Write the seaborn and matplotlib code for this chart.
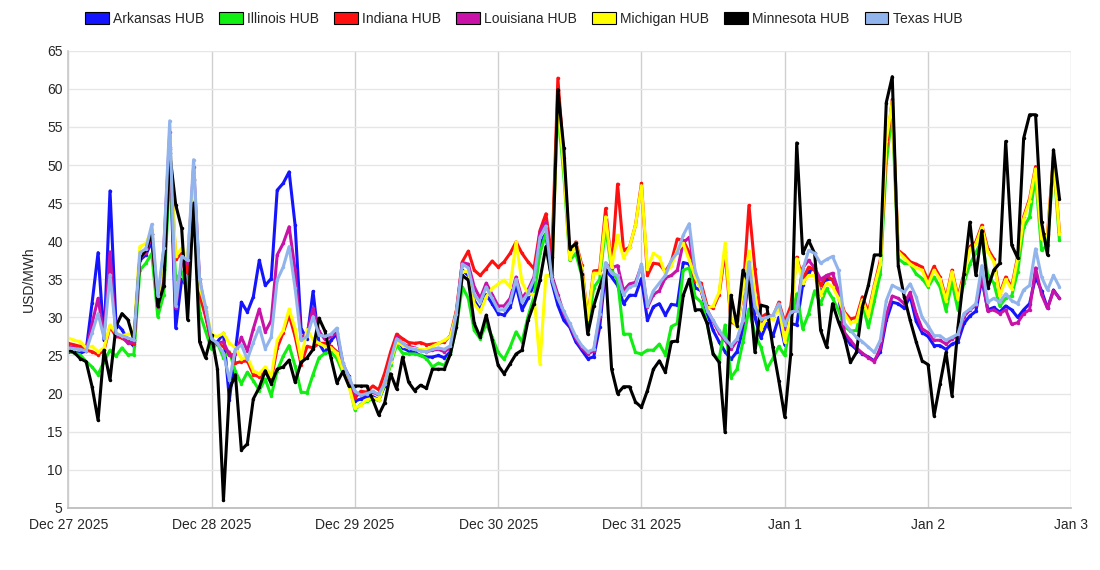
import pandas as pd
import matplotlib
matplotlib.use('Agg')
import matplotlib.pyplot as plt
from matplotlib.patches import Patch
import seaborn as sns

# hourly hub prices, Dec 27 2025 00:00 onward
hubs = ['Arkansas HUB', 'Illinois HUB', 'Indiana HUB', 'Louisiana HUB',
        'Michigan HUB', 'Minnesota HUB', 'Texas HUB']
colors = ['#1414ff', '#11ee11', '#ff1010', '#c812a8', '#ffff00', '#000000', '#92b4ec']

arkansas = [
    25.5, 25.4, 25.3, 25.6, 31.9, 38.5, 27.0, 46.6, 29.2, 28.4, 27.0, 26.2,
    37.5, 38.2, 40.0, 31.0, 36.2, 52.1, 28.6, 35.0, 34.0, 48.0, 34.5, 30.5,
    26.6, 26.8, 27.9, 19.2, 25.6, 32.0, 30.7, 32.7, 37.5, 34.2, 35.1, 46.7,
    47.6, 49.1, 42.1, 28.5, 27.2, 33.4, 26.6, 25.3, 27.0, 27.8, 23.8, 22.3,
    19.0, 19.3, 19.6, 19.6, 19.2, 21.0, 24.2, 27.2, 26.0, 25.6, 25.4, 25.0,
    24.8, 24.8, 25.0, 24.7, 25.5, 29.6, 36.2, 35.5, 32.2, 31.0, 33.0, 31.8,
    30.5, 30.3, 31.3, 34.2, 31.0, 32.5, 34.3, 39.8, 41.0, 34.6, 31.6, 29.6,
    28.7, 26.8, 25.7, 24.6, 24.8, 28.7, 36.2, 35.3, 34.2, 31.8, 32.9, 32.9,
    35.1, 29.6, 31.4, 31.8, 30.3, 31.7, 31.6, 37.2, 37.0, 33.9, 33.5, 30.5,
    28.3, 26.8, 25.5, 24.5, 25.5, 28.4, 36.0, 30.0, 27.3, 29.2, 27.5, 30.0,
    26.4, 29.2, 29.0, 34.3, 36.0, 36.5, 33.0, 35.0, 35.0, 33.0, 27.5, 26.5,
    25.8, 25.2, 24.8, 24.3, 25.5, 29.6, 32.0, 31.8, 31.2, 32.8, 29.5, 28.0,
    27.5, 26.3, 26.3, 25.8, 26.5, 26.8, 29.2, 30.2, 30.8, 35.0, 31.0, 31.3,
    30.7, 31.5, 31.0, 30.0, 31.0, 31.8, 35.3, 33.5, 31.2, 33.6, 32.5]

illinois = [
    25.7, 25.3, 25.1, 24.2, 23.5, 22.5, 24.2, 25.7, 24.9, 26.0, 25.1, 25.1,
    36.2, 37.1, 38.4, 30.1, 33.0, 49.2, 35.0, 36.0, 33.4, 45.0, 30.6, 28.2,
    25.8, 26.6, 24.7, 25.5, 22.9, 21.3, 22.8, 21.7, 20.4, 21.9, 19.7, 23.0,
    24.9, 26.3, 23.6, 20.2, 20.1, 22.5, 24.7, 25.3, 25.4, 24.6, 22.7, 21.4,
    17.9, 18.6, 19.0, 19.3, 19.1, 21.2, 23.8, 26.4, 25.3, 25.2, 25.2, 25.0,
    24.6, 23.5, 24.0, 23.7, 25.2, 28.7, 34.0, 32.5, 28.3, 27.2, 29.2, 27.4,
    25.4, 24.5, 26.1, 28.1, 26.8, 30.1, 32.7, 38.4, 41.0, 37.9, 57.2, 48.6,
    37.5, 38.4, 35.5, 28.3, 33.9, 35.0, 41.9, 36.2, 34.9, 27.8, 27.8, 25.4,
    25.2, 25.7, 25.7, 26.5, 25.1, 28.8, 29.2, 36.2, 36.5, 32.7, 32.0, 29.2,
    25.2, 24.5, 29.0, 22.1, 23.2, 26.8, 31.1, 27.8, 26.1, 23.2, 24.6, 26.2,
    25.0, 29.6, 33.1, 28.5, 30.5, 33.5, 31.8, 33.8, 32.5, 30.9, 28.8, 28.2,
    28.3, 31.8, 28.7, 32.2, 35.7, 50.2, 57.0, 37.7, 37.1, 37.0, 35.7, 35.1,
    34.0, 35.3, 34.0, 30.9, 34.6, 31.0, 34.5, 37.0, 38.5, 40.1, 35.5, 34.5,
    31.5, 32.5, 32.8, 36.0, 41.8, 43.2, 48.6, 38.8, 39.5, 50.5, 40.1]

indiana = [
    26.6, 26.4, 26.2, 25.7, 25.5, 25.1, 25.7, 28.8, 27.5, 27.3, 26.8, 26.5,
    38.0, 39.0, 40.4, 32.0, 36.3, 52.4, 37.6, 38.4, 35.8, 48.1, 33.0, 30.1,
    26.8, 26.5, 26.2, 25.3, 24.0, 24.2, 24.3, 22.5, 22.2, 23.0, 21.8, 26.0,
    28.0, 30.3, 27.5, 23.8, 26.2, 26.0, 26.6, 26.6, 26.2, 25.5, 23.1, 21.4,
    19.4, 20.3, 20.2, 21.0, 20.5, 22.7, 25.5, 27.8, 27.2, 26.7, 26.6, 26.7,
    26.4, 26.5, 26.6, 26.8, 27.6, 30.9, 37.3, 38.7, 36.2, 35.5, 36.4, 37.4,
    36.6, 37.3, 38.4, 39.9, 38.4, 37.3, 36.4, 41.4, 43.6, 37.9, 61.4, 50.9,
    37.9, 39.9, 36.9, 29.8, 36.1, 36.2, 44.3, 36.6, 47.5, 38.8, 39.2, 42.1,
    47.6, 35.5, 37.1, 37.0, 36.0, 37.3, 40.3, 40.1, 38.5, 34.8, 34.5, 31.5,
    31.2, 33.0, 38.6, 29.4, 29.0, 33.1, 44.7, 36.4, 30.0, 30.5, 30.0, 32.0,
    29.4, 31.5, 37.9, 35.0, 36.6, 36.2, 34.2, 35.5, 34.9, 33.1, 30.7, 29.8,
    30.0, 32.7, 30.7, 34.2, 37.5, 51.8, 58.6, 38.8, 38.2, 37.3, 37.0, 36.6,
    34.9, 36.7, 35.3, 32.5, 36.2, 32.7, 35.7, 39.3, 39.9, 42.1, 39.0, 37.7,
    33.1, 35.3, 34.0, 38.0, 43.2, 45.6, 49.8, 40.6, 41.0, 51.0, 41.2]

louisiana = [
    26.2, 26.0, 25.8, 25.6, 29.2, 32.5, 27.5, 38.6, 27.5, 27.5, 26.6, 26.8,
    37.8, 38.5, 41.0, 31.4, 38.9, 54.3, 31.2, 37.3, 37.1, 49.8, 35.0, 30.8,
    26.8, 26.6, 26.8, 25.0, 25.2, 27.4, 25.6, 28.5, 31.1, 28.1, 29.6, 38.2,
    39.7, 41.9, 36.2, 27.2, 28.0, 31.2, 28.2, 27.1, 27.5, 28.0, 24.0, 22.0,
    20.1, 19.8, 19.9, 20.2, 19.8, 21.4, 24.5, 27.4, 26.5, 26.2, 26.0, 25.7,
    25.5, 25.7, 25.8, 25.5, 26.0, 30.5, 37.2, 37.0, 34.0, 32.5, 34.5, 33.0,
    31.5, 31.5, 32.5, 35.3, 32.5, 33.6, 35.3, 41.2, 42.5, 35.5, 33.0, 30.5,
    29.0, 27.2, 26.0, 25.2, 25.6, 30.0, 37.0, 36.5, 36.8, 33.5, 34.4, 34.6,
    36.8, 31.3, 33.0, 33.5, 35.2, 35.5, 36.2, 39.8, 40.5, 35.8, 33.5, 31.0,
    29.5, 28.0, 27.0, 25.8, 27.0, 29.5, 36.5, 31.5, 29.5, 29.8, 30.0, 31.5,
    28.5, 30.5, 31.0, 36.5, 37.5, 36.5, 35.0, 35.5, 35.8, 33.5, 28.0, 27.0,
    26.0, 25.3, 24.7, 24.2, 26.0, 30.3, 32.8, 32.5, 31.8, 33.3, 30.5, 28.5,
    28.0, 27.0, 27.0, 26.5, 27.2, 27.6, 30.1, 31.0, 31.6, 35.5, 30.8, 31.0,
    30.5, 31.0, 29.1, 29.3, 30.5, 31.0, 36.5, 33.0, 31.2, 33.5, 32.5]

michigan = [
    27.3, 27.0, 26.8, 26.0, 26.2, 25.5, 26.0, 29.0, 27.9, 27.6, 27.8, 27.9,
    39.3, 39.7, 41.5, 32.5, 37.1, 53.3, 38.0, 39.1, 37.8, 48.7, 34.0, 31.4,
    27.7, 27.5, 27.9, 26.6, 26.0, 24.6, 24.8, 23.0, 22.6, 23.5, 22.3, 27.0,
    28.3, 31.1, 28.5, 24.5, 28.4, 27.1, 26.6, 26.2, 26.0, 25.3, 23.1, 21.0,
    18.1, 18.5, 19.2, 19.4, 19.2, 21.4, 24.2, 26.8, 26.3, 26.0, 25.9, 25.8,
    25.8, 26.2, 26.6, 27.0, 27.5, 30.5, 36.0, 36.0, 31.8, 30.7, 32.7, 33.8,
    34.4, 34.9, 34.0, 39.9, 34.6, 33.1, 33.0, 23.9, 35.5, 35.5, 58.5, 49.8,
    37.7, 39.7, 36.5, 29.8, 35.8, 35.8, 43.2, 36.6, 40.8, 37.8, 39.2, 42.1,
    47.3, 36.4, 38.4, 37.9, 35.7, 36.8, 38.8, 39.7, 37.5, 35.3, 33.6, 31.2,
    31.5, 33.3, 39.7, 29.8, 28.8, 33.5, 38.7, 33.0, 28.5, 30.0, 29.8, 31.5,
    26.8, 30.0, 37.7, 34.5, 35.5, 35.5, 33.0, 34.5, 34.0, 32.5, 30.5, 29.3,
    29.5, 32.3, 30.2, 34.0, 37.0, 53.2, 58.3, 38.6, 37.8, 37.0, 36.5, 36.2,
    34.3, 36.2, 35.0, 32.2, 36.0, 32.4, 35.3, 39.0, 39.6, 41.8, 38.6, 37.3,
    32.8, 35.0, 33.7, 37.7, 42.9, 45.3, 49.5, 40.3, 40.7, 50.8, 41.0]

minnesota = [
    25.7, 25.4, 24.6, 24.2, 20.9, 16.5, 25.7, 21.8, 28.8, 30.5, 29.7, 27.0,
    37.8, 38.8, 41.0, 31.5, 34.1, 51.6, 44.8, 41.7, 29.7, 45.0, 26.8, 24.7,
    27.7, 23.2, 6.0, 20.5, 22.5, 12.6, 13.4, 19.3, 20.8, 23.0, 21.3, 23.2,
    23.5, 24.4, 21.5, 24.1, 24.7, 25.8, 29.9, 28.2, 24.7, 21.4, 22.9, 21.0,
    21.0, 21.0, 21.0, 19.2, 17.2, 18.8, 22.6, 20.6, 24.8, 21.5, 20.4, 21.1,
    20.7, 23.2, 23.2, 23.2, 25.2, 28.7, 35.5, 34.9, 29.2, 27.4, 30.3, 27.0,
    23.7, 22.6, 23.9, 25.2, 25.7, 29.6, 31.8, 34.9, 39.3, 34.9, 59.9, 52.2,
    39.0, 39.7, 35.7, 27.8, 31.5, 34.0, 36.2, 23.2, 20.0, 20.9, 20.9, 18.9,
    18.2, 20.4, 23.2, 24.3, 22.8, 26.8, 26.9, 32.9, 35.0, 31.0, 31.0, 29.2,
    25.2, 24.1, 14.9, 32.9, 28.9, 36.2, 34.4, 25.4, 31.6, 31.4, 26.1, 21.7,
    16.9, 25.2, 52.9, 38.4, 40.1, 38.4, 28.3, 26.1, 31.8, 29.4, 27.4, 24.1,
    25.4, 31.4, 34.2, 38.2, 38.2, 58.2, 61.6, 36.8, 32.7, 29.6, 26.8, 24.3,
    23.8, 17.1, 21.3, 25.4, 19.7, 28.7, 35.7, 42.5, 35.5, 41.4, 33.8, 36.2,
    37.1, 53.1, 39.5, 37.8, 53.5, 56.6, 56.6, 42.5, 38.2, 52.0, 45.6]

texas = [
    26.0, 25.9, 25.8, 25.6, 28.0, 30.5, 27.3, 35.6, 27.9, 27.6, 27.3, 27.0,
    38.5, 39.0, 42.2, 32.8, 39.1, 55.8, 31.5, 38.0, 37.5, 50.7, 35.0, 31.4,
    27.2, 26.6, 25.3, 21.8, 25.8, 26.4, 24.5, 26.7, 28.7, 25.9, 27.4, 34.9,
    36.6, 39.3, 33.8, 27.0, 27.5, 30.1, 27.7, 27.5, 27.8, 28.6, 24.0, 22.2,
    20.3, 19.8, 20.0, 20.3, 19.9, 21.3, 24.5, 27.2, 26.6, 26.0, 25.8, 25.6,
    25.5, 25.8, 26.0, 25.8, 26.3, 30.5, 37.0, 36.5, 33.0, 32.0, 34.0, 32.5,
    31.0, 31.0, 32.0, 35.0, 32.0, 33.2, 35.0, 40.5, 42.0, 35.0, 32.5, 30.8,
    29.2, 27.5, 26.3, 25.5, 25.8, 30.5, 37.2, 35.8, 35.5, 33.0, 34.0, 34.2,
    37.0, 31.5, 33.5, 34.5, 35.5, 37.5, 38.5, 40.8, 42.3, 36.0, 34.0, 30.9,
    29.6, 28.3, 27.2, 26.3, 27.2, 29.6, 37.3, 31.4, 29.8, 30.0, 30.3, 31.8,
    29.0, 30.7, 30.9, 36.2, 38.8, 38.4, 37.1, 37.6, 38.0, 36.2, 29.2, 28.3,
    27.4, 26.8, 26.1, 25.4, 27.0, 32.2, 34.2, 33.8, 33.3, 34.4, 32.7, 30.0,
    28.9, 27.6, 27.6, 27.0, 27.4, 27.8, 30.5, 31.1, 31.8, 36.8, 32.0, 32.5,
    32.0, 33.1, 32.2, 31.8, 33.6, 34.2, 39.0, 35.3, 33.6, 35.5, 34.0]

day_labels = ['Dec 27 2025', 'Dec 28 2025', 'Dec 29 2025', 'Dec 30 2025',
              'Dec 31 2025', 'Jan 1', 'Jan 2', 'Jan 3']
y_ticks = list(range(5, 70, 5))

# %%

series = [arkansas, illinois, indiana, louisiana, michigan, minnesota, texas]
times = pd.date_range('2025-12-27 00:00', periods=len(arkansas), freq='h')
df = pd.concat([pd.DataFrame({'time': times, 'price': vals, 'hub': hub})
                for hub, vals in zip(hubs, series)], ignore_index=True)
palette = dict(zip(hubs, colors))

sns.set_theme(style='white')
plt.rcParams['font.family'] = ['Liberation Sans', 'DejaVu Sans']

fig = plt.figure(figsize=(11, 5.7), dpi=100)
ax = fig.add_axes([0.062, 0.109, 0.912, 0.802])

sns.lineplot(data=df, x='time', y='price', hue='hub', hue_order=hubs,
             palette=palette, linewidth=2.2, marker='o', markersize=2.5,
             markeredgewidth=0, legend=False, ax=ax)

days = pd.date_range('2025-12-27', '2026-01-03', freq='D')
ax.set_xlim(days[0], days[-1])
ax.set_ylim(5, 65)
ax.set_yticks(y_ticks)
ax.set_xticks(days)
ax.set_xticklabels(day_labels, fontsize=10)
ax.tick_params(axis='y', labelsize=10, length=0, pad=4)
ax.tick_params(axis='x', length=4, color='#999999', pad=3)
ax.yaxis.grid(True, color='#e6e6e6', linewidth=1)
ax.xaxis.grid(True, color='#d0d0d0', linewidth=1)
ax.set_axisbelow(True)
for side in ['top', 'right']:
    ax.spines[side].set_visible(False)
ax.spines['left'].set_color('#cccccc')
ax.spines['bottom'].set_color('#bbbbbb')
ax.set_xlabel('')
ax.set_ylabel('USD/MWh', fontsize=10, labelpad=8)

handles = [Patch(facecolor=c, edgecolor='black', linewidth=0.8) for c in colors]
fig.legend(handles, hubs, loc='center', bbox_to_anchor=(0.476, 0.967), ncol=7,
           frameon=False, fontsize=10, handlelength=1.7, handleheight=0.9,
           handletextpad=0.3, columnspacing=1.1)

plt.savefig('out.png', dpi=100)
